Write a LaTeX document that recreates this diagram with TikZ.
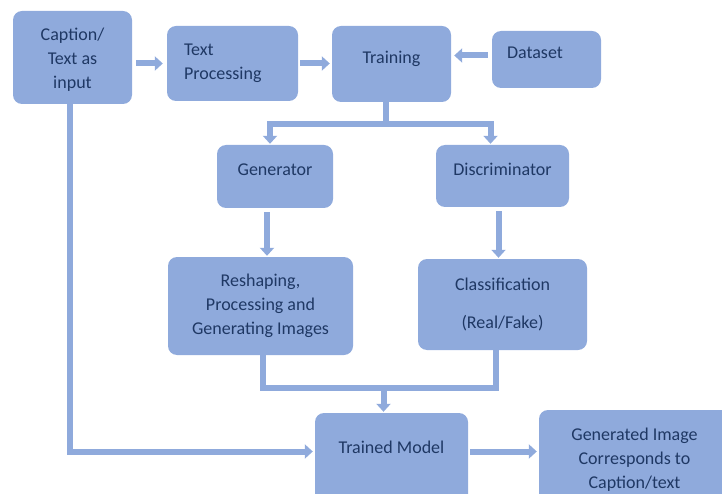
\documentclass[tikz,border=0pt]{standalone}
\usepackage{fontspec}
\setmainfont{Carlito}
\usepackage{tikz}
\usetikzlibrary{arrows.meta}

\definecolor{boxblue}{HTML}{8FAADC}
\definecolor{navy}{HTML}{1F3864}

\tikzset{
  stage/.style={rectangle, rounded corners=9pt, fill=boxblue, text=navy, font=\fontsize{18}{24}\selectfont, align=center, inner sep=0pt},
  up/.style={text height=13pt, text depth=14pt},
  line/.style={draw=boxblue, line width=6pt},
  flow/.style={line, -{Triangle[width=14pt,length=8pt]}},
}

\begin{document}
\begin{tikzpicture}[x=1pt,y=-1pt]
  \clip (0,0) rectangle (722,494);

  \node[stage, minimum width=119pt, minimum height=93pt, text height=67pt, text depth=4pt] at (72.5,57.5) (cap) {Caption/\\Text as\\input};
  \node[stage, minimum width=131pt, minimum height=75pt, text width=97pt, align=left, inner xsep=17pt] at (232.5,63.5) (txt) {Text\\Processing};
  \node[stage, up, minimum width=119pt, minimum height=76pt] at (391.5,64) (train) {Training};
  \node[stage, up, minimum width=109pt, minimum height=57pt, text width=79pt, align=left, inner xsep=15pt] at (546.5,59.5) (data) {Dataset};

  \node[stage, up, minimum width=116pt, minimum height=63pt] at (275,176.5) (gen) {Generator};
  \node[stage, up, minimum width=133pt, minimum height=62pt] at (502.5,176) (disc) {Discriminator};
  \node[stage, minimum width=185pt, minimum height=98pt] at (260.5,306) (resh) {Reshaping,\\Processing and\\Generating Images};
  \node[stage, minimum width=169pt, minimum height=91pt] at (502.5,304.5) (cls) {Classification\\[14pt](Real/Fake)};

  \node[stage, minimum width=153pt, minimum height=97pt, text height=13pt, text depth=29pt] at (391.5,461.5) (tm) {Trained Model};
  \node[stage, minimum width=191pt, minimum height=100pt] at (634.5,460) (out) {Generated Image\\Corresponds to\\Caption/text};

  \draw[flow, shorten <=4pt, shorten >=4pt] (cap.east |- txt.west) -- (txt.west);
  \draw[flow, shorten <=2pt, shorten >=2pt] (txt.east) -- (train.west |- txt.east);
  \draw[flow, shorten <=4pt, shorten >=3pt] ([yshift=4pt]data.west) -- ([yshift=4pt]data.west -| train.east);

  \draw[line] ([xshift=-6pt]train.south) -- ++(0,22) coordinate (split);
  \draw[flow, shorten >=1pt] (split) -| ([xshift=-5pt]gen.north);
  \draw[flow, shorten >=1pt] (split) -| ([xshift=-12pt]disc.north);

  \draw[flow, shorten <=4pt, shorten >=1pt] ([xshift=-8pt]gen.south) -- ([xshift=-8pt]gen.south |- resh.north);
  \draw[flow, shorten <=4pt, shorten >=1pt] ([xshift=-4pt]disc.south) -- ([xshift=-4pt]disc.south |- cls.north);

  \draw[line] ([xshift=2pt]resh.south) -- ++(0,33) coordinate (merge) -| ([xshift=-7pt]cls.south);
  \draw[flow, shorten >=1pt] ([xshift=-8pt]tm.north |- merge) -- ([xshift=-8pt]tm.north);

  \draw[flow, shorten >=2pt] ([xshift=-3pt]cap.south) |- ([yshift=10pt]tm.west);
  \draw[flow, shorten <=2pt, shorten >=2pt] ([yshift=10pt]tm.east) -- ([yshift=10pt]tm.east -| out.west);
\end{tikzpicture}
\end{document}
